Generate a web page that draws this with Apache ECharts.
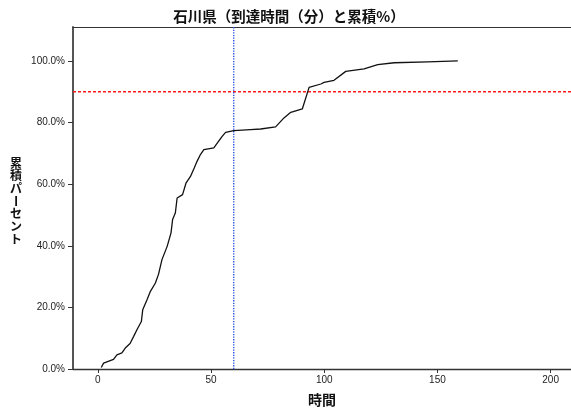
<!DOCTYPE html>
<html>
<head>
<meta charset="utf-8">
<script src="https://cdn.jsdelivr.net/npm/echarts@6/dist/echarts.min.js"></script>
<style>
  html, body { margin: 0; padding: 0; background: #fff; }
  #chart { width: 571px; height: 410px; }
</style>
</head>
<body>
<div id="chart"></div>
<script>
// Arrival time (minutes) and cumulative percentage, Ishikawa prefecture
const times = [1.5, 2.5, 6.9, 8.4, 10.6, 12.1, 14.2, 15.8, 17.3, 19.2, 19.8, 21.7, 23.2, 25.4, 26.8,
  28.3, 30.6, 32.3, 33.0, 34.2, 35.0, 37.4, 38.9, 40.9, 42.6, 43.8, 45.3, 46.8, 51.2, 53.6, 54.9,
  56.4, 60.0, 67.4, 71.9, 78.5, 82.2, 85.2, 90.3, 93.3, 98.5, 99.9, 104.3, 109.5, 117.6, 123.6,
  130.9, 145.7, 159.0];
const cumulativePct = [0.5, 1.9, 3.1, 4.6, 5.2, 6.8, 8.3, 10.6, 12.8, 15.4, 19.2, 22.5, 25.2, 27.9, 30.8,
  35.5, 39.8, 44.2, 48.5, 50.6, 55.5, 56.6, 60.3, 62.5, 65.3, 67.4, 69.6, 71.2, 71.8, 74.2, 75.5,
  76.8, 77.4, 77.7, 77.9, 78.6, 81.5, 83.3, 84.4, 91.4, 92.5, 93.0, 93.7, 96.6, 97.4, 98.8,
  99.4, 99.7, 100.0];

const xTicks = [0, 50, 100, 150, 200];
const yTicks = [0, 20, 40, 60, 80, 100];
const refPct = 90;      // horizontal reference line
const refTime = 60;     // vertical reference line

const titleText = '石川県（到達時間（分）と累積%）';
const xName = '時間';
const yNameChars = ['累', '積', 'パ', 'ー', 'セ', 'ン', 'ト'];

// axis extents
const X_MIN = -11, X_MAX = 209, Y_MIN = 0, Y_MAX = 111;

const chart = echarts.init(document.getElementById('chart'), null, { renderer: 'canvas' });

// vertical y-axis name, one glyph per row; the long-vowel mark is turned upright
const yNameGraphics = yNameChars.map((ch, i) => ({
  type: 'text',
  x: 16,
  y: 163 + i * 12.7,
  rotation: ch === 'ー' ? -Math.PI / 2 : 0,
  style: {
    text: ch,
    font: 'bold 12px "Noto Sans CJK JP"',
    fill: '#111',
    align: 'center',
    verticalAlign: 'middle'
  }
}));

const labelFont = { fontFamily: 'Liberation Sans, Arial, sans-serif', fontSize: 10, color: '#222' };

// straight reference line spanning the plot, drawn through the axes
function refLine(points, color, dash, width) {
  return {
    type: 'line',
    data: points,
    silent: true,
    showSymbol: false,
    z: 1,
    itemStyle: { color: color },
    lineStyle: { color: color, type: dash, width: width },
    emphasis: { disabled: true }
  };
}

chart.setOption({
  animation: false,
  backgroundColor: '#fff',
  tooltip: { show: false },
  title: {
    text: titleText,
    left: 284,
    top: 4,
    textAlign: 'center',
    textStyle: { fontFamily: 'Noto Sans CJK JP', fontWeight: 'bold', fontSize: 14.5, color: '#111' }
  },
  graphic: yNameGraphics,
  grid: { left: 73, right: 0, top: 27, bottom: 41, outerBoundsMode: 'none', containLabel: false },
  xAxis: [{
    type: 'value',
    min: X_MIN,
    max: X_MAX,
    name: xName,
    nameLocation: 'middle',
    nameGap: 24,
    nameTextStyle: { fontFamily: 'Noto Sans CJK JP', fontWeight: 'bold', fontSize: 14, color: '#111', verticalAlign: 'top' },
    axisLine: { show: true, onZero: false, lineStyle: { color: '#333', width: 1.3 } },
    axisTick: { show: true, length: 4, customValues: xTicks, lineStyle: { color: '#333' } },
    axisLabel: Object.assign({ customValues: xTicks, margin: 6 }, labelFont),
    splitLine: { show: false }
  }, {
    type: 'value',
    position: 'top',
    min: X_MIN,
    max: X_MAX,
    axisLine: { show: true, onZero: false, lineStyle: { color: '#333', width: 1.2 } },
    axisTick: { show: false },
    axisLabel: { show: false },
    splitLine: { show: false }
  }],
  yAxis: {
    type: 'value',
    min: Y_MIN,
    max: Y_MAX,
    axisLine: { show: true, onZero: false, lineStyle: { color: '#555', width: 2 } },
    axisTick: { show: true, length: 5, customValues: yTicks, lineStyle: { color: '#333' } },
    axisLabel: Object.assign({
      customValues: yTicks,
      margin: 8,
      formatter: v => v.toFixed(1) + '%'
    }, labelFont),
    splitLine: { show: false }
  },
  series: [
    refLine([[X_MIN, refPct], [X_MAX, refPct]], '#ff1a1a', [3, 2], 1.5),
    refLine([[refTime, Y_MIN], [refTime, Y_MAX]], '#2f55e0', [1.3, 1.3], 1.4),
    {
      type: 'line',
      data: times.map((t, i) => [t, cumulativePct[i]]),
      showSymbol: false,
      smooth: false,
      z: 3,
      itemStyle: { color: '#111' },
      lineStyle: { color: '#111', width: 1.3 }
    }
  ]
});
</script>
</body>
</html>
